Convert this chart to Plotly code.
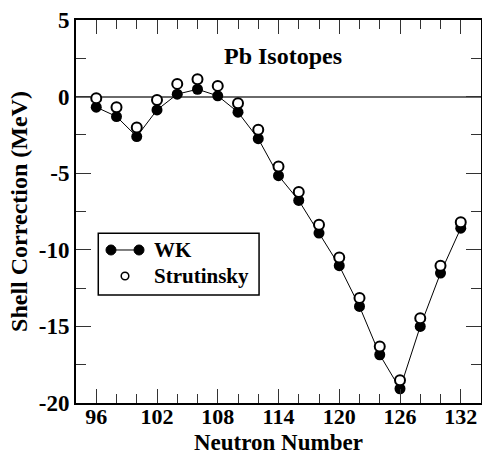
import plotly.graph_objects as go

# ---- data ----
neutrons = [96, 98, 100, 102, 104, 106, 108, 110, 112, 114, 116, 118, 120, 122, 124, 126, 128, 130, 132]
wk = [-0.69, -1.30, -2.61, -0.87, 0.16, 0.48, 0.05, -1.02, -2.75, -5.16, -6.78, -8.91, -11.04, -13.70, -16.85, -19.07, -15.00, -11.52, -8.59]
strutinsky = [-0.10, -0.69, -2.02, -0.22, 0.83, 1.13, 0.70, -0.43, -2.17, -4.57, -6.22, -8.37, -10.50, -13.15, -16.31, -18.52, -14.46, -11.04, -8.20]
x_ticks = [96, 102, 108, 114, 120, 126, 132]
x_labels = ["96", "102", "108", "114", "120", "126", "132"]
y_ticks = [5, 0, -5, -10, -15, -20]
y_labels = ["5", "0", "-5", "-10", "-15", "-20"]

FONT = "Liberation Serif"

fig = go.Figure()
fig.add_trace(go.Scatter(
    x=neutrons, y=wk, mode="lines+markers", name="WK",
    line=dict(color="black", width=1),
    marker=dict(symbol="circle", size=11, color="black"),
    showlegend=False,
))
fig.add_trace(go.Scatter(
    x=neutrons, y=strutinsky, mode="markers", name="Strutinsky",
    marker=dict(symbol="circle", size=10, color="white", line=dict(color="black", width=2)),
    showlegend=False,
))

axis_common = dict(
    showgrid=False, showline=True, linecolor="black", linewidth=2, mirror="ticks",
    ticks="inside", tickcolor="#333", tickwidth=1,
)

fig.update_xaxes(
    range=[94, 134], tickmode="array", tickvals=x_ticks, ticktext=x_labels, ticklen=14,
    minor=dict(dtick=2, tick0=94, ticks="inside", ticklen=9, tickcolor="#333", showgrid=False),
    zeroline=False,
    tickfont=dict(family=FONT, size=22, color="black", weight="bold"),
    ticklabelstandoff=-7,
    **axis_common,
)
fig.update_yaxes(
    range=[-20, 5], tickmode="array", tickvals=y_ticks, ticktext=y_labels, ticklen=15,
    minor=dict(dtick=2.5, tick0=0, ticks="inside", ticklen=10, tickcolor="#333", showgrid=False),
    zeroline=True, zerolinecolor="#6a6a6a", zerolinewidth=1.5,
    tickfont=dict(family=FONT, size=23, color="black", weight="bold"),
    title=dict(text="Shell Correction (MeV)", font=dict(family=FONT, size=24, color="black", weight="bold"), standoff=4),
    **axis_common,
)

# x-axis title as annotation for precise placement
fig.add_annotation(
    x=0.5, y=-0.1384, xref="paper", yref="paper", text="Neutron Number", showarrow=False,
    xanchor="center", yanchor="bottom", borderpad=0,
    font=dict(family=FONT, size=23, color="black", weight="bold"),
)

fig.add_annotation(
    x=114.4, y=2.65, xref="x", yref="y", text="Pb Isotopes", showarrow=False,
    font=dict(family=FONT, size=24, color="black", weight="bold"),
)

# ---- custom legend ----
shapes = [
    dict(type="rect", xref="paper", yref="paper", x0=0.055, x1=0.452, y0=0.282, y1=0.443,
         line=dict(color="black", width=1.5), fillcolor="white", layer="above"),
    dict(type="line", xref="paper", yref="paper", x0=0.0864, x1=0.1556, y0=0.3995, y1=0.3995,
         line=dict(color="black", width=1), layer="above"),
]
for xp in (0.0864, 0.1556):
    shapes.append(dict(type="circle", xref="paper", yref="paper", xsizemode="pixel", ysizemode="pixel",
                       xanchor=xp, yanchor=0.3995, x0=-5, x1=5, y0=-5, y1=5,
                       fillcolor="black", line=dict(color="black", width=1), layer="above"))
shapes.append(dict(type="circle", xref="paper", yref="paper", xsizemode="pixel", ysizemode="pixel",
                   xanchor=0.121, yanchor=0.3316, x0=-3.8, x1=3.8, y0=-3.8, y1=3.8,
                   fillcolor="white", line=dict(color="black", width=1.5), layer="above"))
fig.update_layout(shapes=shapes)
for label, yp in (("WK", 0.3995), ("Strutinsky", 0.3316)):
    fig.add_annotation(x=0.187, y=yp, xref="paper", yref="paper", text=label,
                       showarrow=False, xanchor="left", yanchor="middle",
                       font=dict(family=FONT, size=21, color="black", weight="bold"))

fig.update_layout(
    width=482, height=456,
    margin=dict(l=76, r=1, t=20, b=53, autoexpand=False),
    plot_bgcolor="white", paper_bgcolor="white",
)

fig.write_html("out.html")
